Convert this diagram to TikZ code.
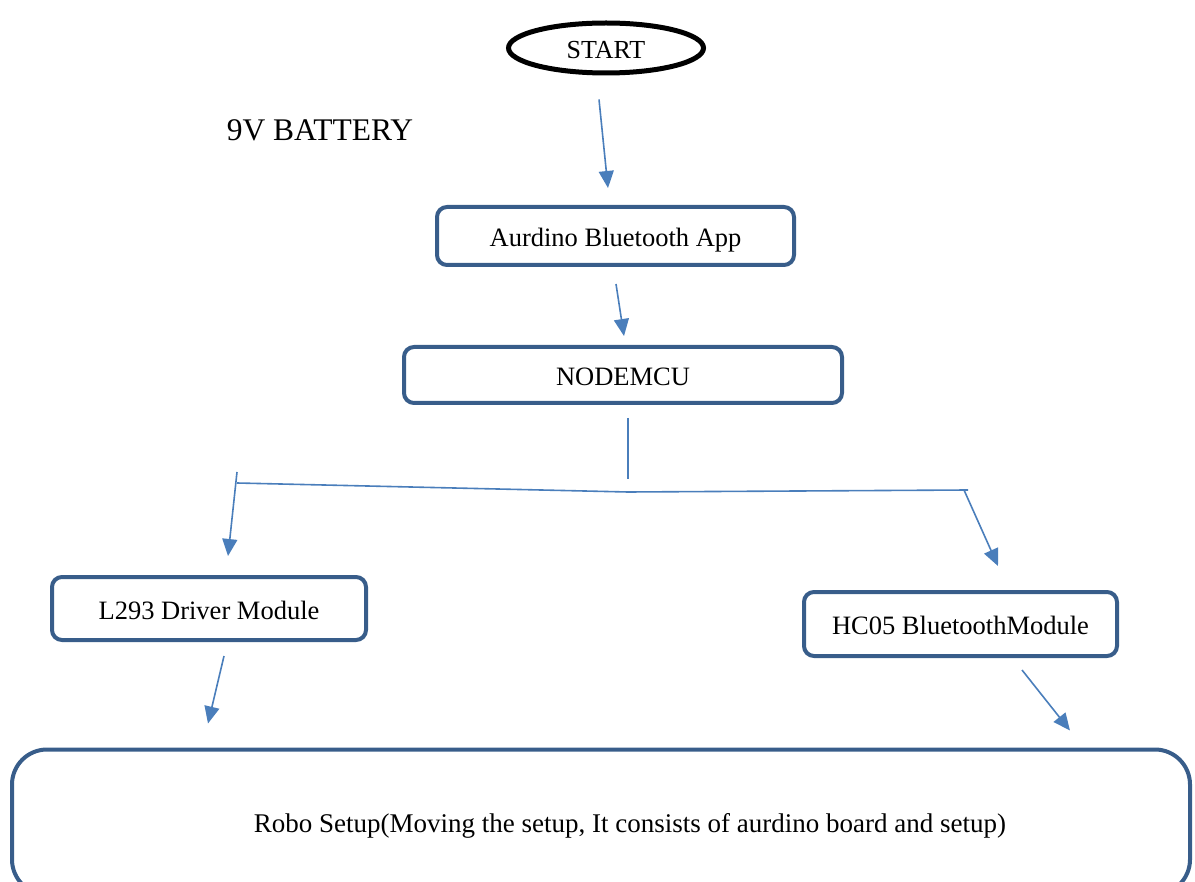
\documentclass[tikz,border=0pt]{standalone}
\usepackage{fontspec}
\setmainfont{Liberation Serif}
\usepackage{tikz}
\usetikzlibrary{shapes.geometric, arrows.meta, positioning, calc}
\definecolor{boxblue}{RGB}{56,93,138}
\definecolor{lineblue}{RGB}{74,126,187}

\tikzset{
    blockbox/.style={draw=boxblue, line width=4pt, rounded corners=10pt, align=center,
        text height=24pt, text depth=3pt, font=\fontsize{26.5}{30}\selectfont},
    startnode/.style={ellipse, draw=black, line width=5pt, minimum width=195pt, minimum height=50pt,
        inner sep=0pt, text height=23pt, text depth=2pt, font=\fontsize{26}{30}\selectfont},
    link/.style={lineblue, line width=1.6pt},
    arr/.style={link, -{Triangle[length=17pt, width=15pt]}}
}

\begin{document}
\begin{tikzpicture}[x=1pt, y=-1pt]
    \useasboundingbox (0,0) rectangle (1195,882);

    % Start
    \node[startnode] (start) at (606,48) {START};
    \node[font=\fontsize{31.5}{36}\selectfont] (battery) at (320,130) {9V BATTERY};

    % App and controller
    \node[blockbox, minimum width=357pt, minimum height=58pt] (app) at (615.5,236) {Aurdino Bluetooth App};
    \node[blockbox, minimum width=438pt, minimum height=56pt] (mcu) at (623,375) {NODEMCU};

    % Modules
    \node[blockbox, minimum width=314pt, minimum height=63pt] (l293) at (209,608.5) {L293 Driver Module};
    \node[blockbox, minimum width=313pt, minimum height=64pt] (hc05) at (960.5,624) {HC05 BluetoothModule};

    % Robo
    \node[blockbox, rounded corners=35pt, minimum width=1178pt, minimum height=145pt] (robo) at (601,822) {};
    \node[blockbox, draw=none, font=\fontsize{27}{30}\selectfont] (robotext) at ($(robo.center)+(29,0)$)
        {Robo Setup(Moving the setup, It consists of aurdino board and setup)};

    % Arrows
    \draw[arr] ($(start.south)+(-7,24)$) -- ($(app.north)+(-7.5,-17)$);
    \draw[arr] ($(app.south)+(0.5,17)$) -- ($(mcu.north)+(1,-9)$);

    % Split
    \coordinate (split) at ($(mcu.south)+(5,87)$);
    \coordinate (lsplit) at (237,483);
    \coordinate (rsplit) at (968,490);
    \draw[link] ($(mcu.south)+(5,13)$) -- ($(mcu.south)+(5,74)$);
    \draw[link] (lsplit) -- (split) -- (rsplit);
    \draw[arr] ($(lsplit)+(0,-11)$) -- ($(l293.north)+(19,-19)$);
    \draw[arr] ($(rsplit)+(-4,0)$) -- ($(hc05.north)+(37.5,-24)$);

    \draw[arr] ($(l293.south)+(15,14)$) -- ($(robo.north west)+(198,-24)$);
    \draw[arr] ($(hc05.south)+(61.5,12)$) -- ($(robo.north east)+(-122,-17)$);
\end{tikzpicture}
\end{document}
